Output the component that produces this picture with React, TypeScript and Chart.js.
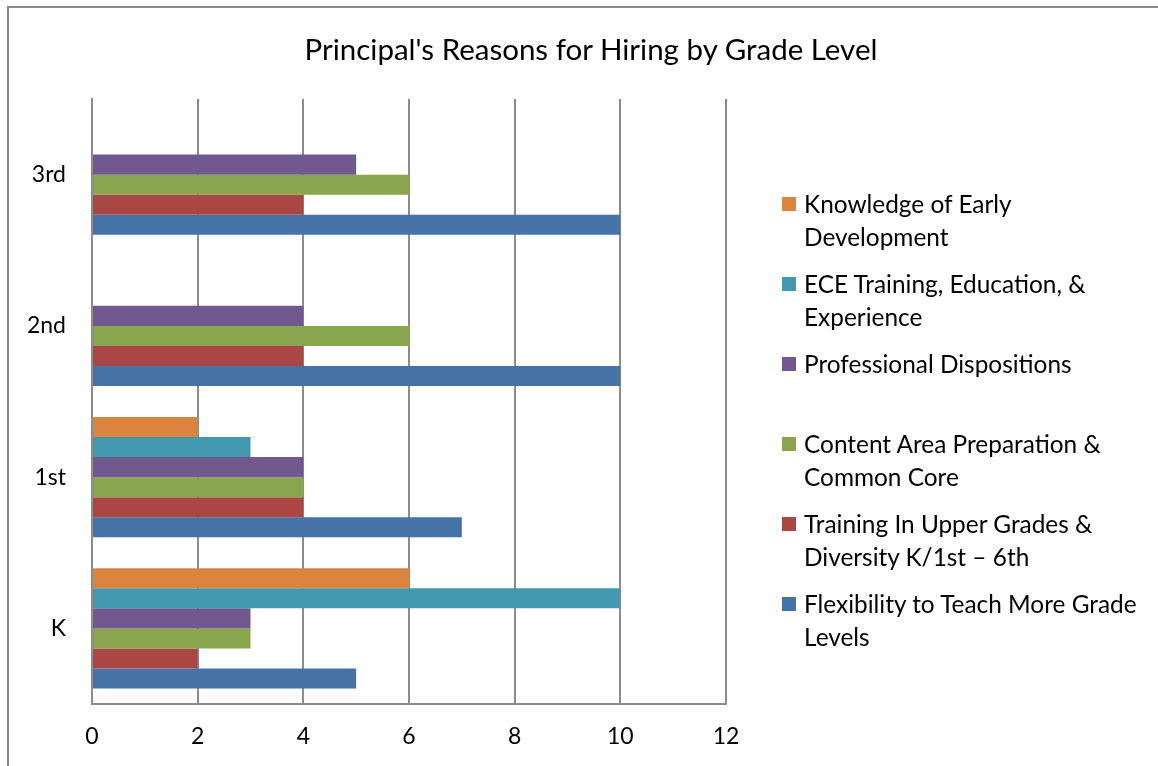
import React, { useEffect, useRef } from "react";
import { Chart, registerables } from "chart.js";
Chart.register(...registerables);

const chartTitle = "Principal's Reasons for Hiring by Grade Level";
const categories = ["K", "1st", "2nd", "3rd"];
const xTickValues = [0, 2, 4, 6, 8, 10, 12];

const seriesLabels = [
  ["Knowledge of Early", "Development"],
  ["ECE Training, Education, &", "Experience"],
  ["Professional Dispositions"],
  ["Content Area Preparation &", "Common Core"],
  ["Training In Upper Grades &", "Diversity K/1st \u2013 6th"],
  ["Flexibility to Teach More Grade", "Levels"],
];
const seriesColors = ["#DB843D", "#4198AF", "#71588F", "#89A54E", "#AA4643", "#4572A7"];

const knowledgeEarlyDev = [6, 2, 0, 0];
const eceTraining = [10, 3, 0, 0];
const professionalDispositions = [3, 4, 4, 5];
const contentAreaPrep = [3, 4, 6, 6];
const upperGradesTraining = [2, 4, 4, 4];
const flexibilityGrades = [5, 7, 10, 10];

const seriesValues = [
  knowledgeEarlyDev,
  eceTraining,
  professionalDispositions,
  contentAreaPrep,
  upperGradesTraining,
  flexibilityGrades,
];

const FONT = "Lato";
const LINE_COLOR = "#8c8c8c";

export default function App() {
  const canvasRef = useRef<HTMLCanvasElement | null>(null);

  useEffect(() => {
    document.body.style.margin = "0";
    if (!canvasRef.current) return;
    const chart = new Chart(canvasRef.current, {
      type: "bar",
      data: {
        labels: categories,
        datasets: seriesValues.map((vals, i) => ({
          label: seriesLabels[i].join(" "),
          data: vals,
          backgroundColor: seriesColors[i],
          borderWidth: 0,
          barPercentage: 1,
          categoryPercentage: 0.7934,
        })),
      },
      options: {
        indexAxis: "y",
        animation: false,
        responsive: false,
        maintainAspectRatio: false,
        layout: { padding: { top: 99, right: 432, bottom: 0, left: 0 } },
        plugins: {
          legend: { display: false },
          title: { display: false },
          tooltip: { enabled: false },
        },
        scales: {
          x: {
            min: 0,
            max: 12,
            afterBuildTicks: (scale: any) => {
              scale.ticks = xTickValues.map((v) => ({ value: v }));
            },
            afterFit: (scale: any) => {
              scale.height = 62;
            },
            grid: { color: LINE_COLOR, lineWidth: 2, drawTicks: false },
            border: { color: LINE_COLOR, width: 2 },
            ticks: {
              padding: 19,
              color: "#000",
              font: { family: FONT, size: 23 },
            },
          },
          y: {
            reverse: true,
            afterFit: (scale: any) => {
              scale.width = 92;
            },
            grid: { display: false, drawTicks: false },
            border: { color: LINE_COLOR, width: 2 },
            ticks: {
              padding: 26,
              color: "#000",
              font: { family: FONT, size: 23 },
            },
          },
        },
      },
    });
    return () => chart.destroy();
  }, []);

  return (
    <div style={{ position: "relative", width: 1158, height: 766, overflow: "hidden", background: "#fff", fontFamily: FONT }}>
      <div
        style={{
          position: "absolute",
          left: 7,
          top: 6,
          right: -10,
          bottom: -10,
          borderLeft: "2px solid #888",
          borderTop: "2px solid #888",
        }}
      />
      <canvas ref={canvasRef} width={1158} height={766} style={{ position: "absolute", left: 0, top: 0 }} />
      <div
        style={{
          position: "absolute",
          left: 591 - 400,
          width: 800,
          top: 29,
          textAlign: "center",
          fontSize: 29.5,
          lineHeight: "40px",
          color: "#000",
        }}
      >
        {chartTitle}
      </div>
      <div style={{ position: "absolute", left: 782, top: 187 }}>
        {seriesLabels.map((lines, i) => (
          <div key={i} style={{ position: "relative", height: 80 }}>
            <div
              style={{
                position: "absolute",
                left: 0,
                top: 10,
                width: 14,
                height: 14,
                background: seriesColors[i],
              }}
            />
            <div style={{ position: "absolute", left: 22, top: 0, fontSize: 24.4, lineHeight: "33px", whiteSpace: "nowrap", color: "#000" }}>
              {lines.map((l, j) => (
                <div key={j}>{l}</div>
              ))}
            </div>
          </div>
        ))}
      </div>
    </div>
  );
}
